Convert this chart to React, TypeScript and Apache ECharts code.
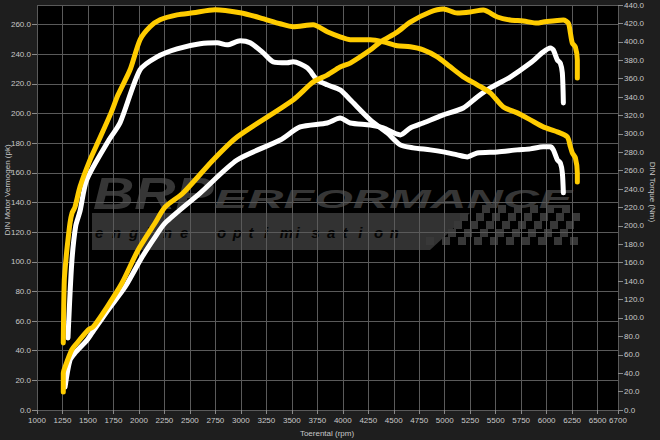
import React, { useEffect, useRef } from "react";
import * as echarts from "echarts";

// Tuned torque (right axis, Nm)
const tunedTorqueRpm = [1258,1268,1290,1304,1324,1344,1373,1422,1520,1609,1726,1795,1913,2011,2109,2207,2374,2531,2747,2993,3189,3386,3513,3709,3847,3974,4073,4269,4397,4534,4662,4789,4927,5054,5182,5319,5447,5575,5712,5840,5966,6105,6203,6233,6252,6282,6301,6301];
const tunedTorqueNm = [72.8,141.3,170.7,184.8,203.3,214.1,220.7,242.4,271.7,293.5,322.8,342.4,369.6,402.2,416.3,423.9,429.3,431.5,434.8,431.5,426.1,419.6,416.3,418.5,410.9,405.4,402.2,402.2,400,395.7,394.6,391.3,383.7,372.8,362,353.3,344.6,329.3,322.8,315.2,307.6,302.2,296.7,285.9,279.3,273.9,257.6,247.8];

// Tuned power (left axis, pk)
const tunedPowerRpm = [1258,1258,1275,1341,1393,1501,1550,1687,1834,1992,2158,2257,2433,2728,2963,3513,3709,3847,3974,4073,4269,4367,4534,4662,4858,4986,5123,5251,5378,5516,5643,5771,5908,5966,6164,6213,6233,6252,6282,6301,6301];
const tunedPowerPk = [12.1,25,29,40.5,45.2,54,56,69.5,85.7,108,126.2,137,146.4,168.7,184.2,209.2,221.3,226,231.4,234.1,242.9,248.3,255,261.8,268.6,270.6,267.9,268.6,269.9,265.2,263.2,262.5,261.1,261.8,263.2,261.1,254.4,247.6,244.9,236.2,224];

// Stock torque (right axis, Nm)
const stockTorqueRpm = [1304,1341,1380,1422,1488,1707,1815,2011,2178,2374,2600,2767,2865,2993,3091,3219,3317,3454,3513,3651,3749,3847,3974,4073,4269,4436,4564,4691,4858,4986,5123,5221,5319,5516,5712,5840,5966,6036,6066,6105,6134,6154,6164];
const stockTorqueNm = [78.3,159.8,200,216,250,293.5,312,369.6,383.7,392.4,397.8,398.9,396.7,401.1,398.9,388,378.3,377.2,378.3,371.7,358.7,353.3,347.8,337,315.2,301.1,288,284.8,282.6,280.4,277.2,275,279.3,280.4,282.6,283.7,285.9,285.9,282.6,271.7,268.5,257.6,235.9];

// Stock power (left axis, pk)
const stockPowerRpm = [1275,1324,1373,1491,1540,1697,1864,2031,2158,2257,2600,2963,3386,3582,3847,3974,4073,4269,4397,4564,4662,4789,4986,5182,5319,5447,5643,5840,5966,6036,6066,6105,6134,6154,6164];
const stockPowerPk = [15.5,33.7,38.5,47.2,52,67.5,83,103.2,116.7,126.2,146.4,168.7,182.2,191,193.7,197,193.7,192.3,190.3,185.6,190.3,193.7,199.1,203.8,211.2,217.3,224.7,234.1,241.6,244.3,242.9,236.2,234.1,227.4,207.2];

const xTitle = "Toerental (rpm)";
const leftTitle = "DIN Motor Vermogen (pk)";
const rightTitle = "DIN Torque (Nm)";
const logoBig = "BRP";
const logoRest = "ERFORMANCE";
const logoSub1 = "engine";
const logoSub2 = "optimisation";

const FONT = "'Liberation Sans', Arial, sans-serif";
const YELLOW = "#ffcc00";
const WHITE = "#ffffff";
const LABEL = "#c8c8c8";
const GRIDC = "#5a5a5a";

const zip = (xs: number[], ys: number[]) => xs.map((x, i) => [x, ys[i]]);

function buildWatermark() {
  const els: any[] = [];
  const wm = "#363636";
  els.push({
    type: "text", x: 93, y: 194, scaleX: 1.3, z: -10, silent: true,
    style: { text: logoBig, fill: wm, font: `italic bold 44px ${FONT}`, textAlign: "left", verticalAlign: "middle" },
  });
  els.push({
    type: "text", x: 214, y: 199, scaleX: 2.0, z: -10, silent: true,
    style: { text: logoRest, fill: wm, font: `italic bold 25px ${FONT}`, textAlign: "left", verticalAlign: "middle" },
  });
  els.push({
    type: "polygon", z: -10, silent: true,
    shape: { points: [[92, 213], [470, 213], [430, 250], [92, 250]] },
    style: { fill: "#323232" },
  });
  logoSub1.split("").forEach((ch, i) => {
    els.push({
      type: "text", x: 95 + i * 17, y: 232, z: -9, silent: true,
      style: { text: ch, fill: "#050505", font: `italic bold 15px ${FONT}`, textAlign: "left", verticalAlign: "middle" },
    });
  });
  logoSub2.split("").forEach((ch, i) => {
    els.push({
      type: "text", x: 217 + i * 15.7, y: 232, z: -9, silent: true,
      style: { text: ch, fill: "#050505", font: `italic bold 15px ${FONT}`, textAlign: "left", verticalAlign: "middle" },
    });
  });
  const cell = 8;
  for (let r = 0; r < 5; r++) {
    for (let c = 0; c < 20; c++) {
      if ((r + c) % 2 !== 0) continue;
      const cx = 418 + c * cell + r * 2;
      const cy = 205 + r * cell;
      if (cx < 470 - r * 12) continue;
      if (cx > 572) continue;
      els.push({
        type: "rect", z: -10, silent: true,
        shape: { x: cx, y: cy, width: cell, height: cell },
        style: { fill: "#383838" },
      });
    }
  }
  return els;
}

export default function App() {
  const ref = useRef<HTMLDivElement>(null);
  useEffect(() => {
    if (!ref.current) return;
    const chart = echarts.init(ref.current, null, { renderer: "svg" });
    const labelStyle = { color: LABEL, fontSize: 8, fontFamily: FONT };
    const tick = { show: true, length: 5, lineStyle: { color: "#8a8a8a" } };
    const fmt = (v: number) => v.toFixed(1);
    const lineSeries = (name: string, xs: number[], ys: number[], color: string, yAxisIndex: number) => ({
      name, type: "line", yAxisIndex, data: zip(xs, ys), symbol: "none", showSymbol: false, z: 3,
      smooth: 0.25,
      lineStyle: { color, width: 5, cap: "round", join: "round" }, itemStyle: { color },
    });
    const option: any = {
      animation: false,
      backgroundColor: "#1e1e1e",
      textStyle: { fontFamily: FONT },
      grid: { left: 37, right: 42, top: 5, bottom: 30, show: true, backgroundColor: "#000000", borderWidth: 0, z: -20 },
      xAxis: {
        type: "value", min: 1000, max: 6700, interval: 250,
        axisLine: { show: false }, axisTick: { ...tick, length: 4 },
        axisLabel: { ...labelStyle, margin: 6, showMaxLabel: true, showMinLabel: true, hideOverlap: false, formatter: (v: number) => String(v) },
        splitLine: { show: true, lineStyle: { color: GRIDC, width: 1 } },
      },
      yAxis: [
        {
          type: "value", min: 0, max: 273.3, interval: 20, position: "left",
          axisLine: { show: false }, axisTick: tick,
          axisLabel: { ...labelStyle, margin: 6, formatter: fmt, showMaxLabel: false },
          splitLine: { show: true, lineStyle: { color: GRIDC, width: 1 } },
        },
        {
          type: "value", min: 0, max: 440, interval: 20, position: "right",
          axisLine: { show: false }, axisTick: tick,
          axisLabel: { ...labelStyle, margin: 6, formatter: fmt },
          splitLine: { show: false },
        },
      ],
      graphic: [
        ...buildWatermark(),
        {
          type: "text", x: 327, y: 433, silent: true,
          style: { text: xTitle, fill: LABEL, font: `8px ${FONT}`, textAlign: "center", verticalAlign: "middle" },
        },
        {
          type: "text", x: 7, y: 190, rotation: Math.PI / 2, silent: true,
          style: { text: leftTitle, fill: LABEL, font: `8px ${FONT}`, textAlign: "center", verticalAlign: "middle" },
        },
        {
          type: "text", x: 652, y: 192, rotation: -Math.PI / 2, silent: true,
          style: { text: rightTitle, fill: LABEL, font: `8px ${FONT}`, textAlign: "center", verticalAlign: "middle" },
        },
      ],
      series: [
        lineSeries("Standaard vermogen", stockPowerRpm, stockPowerPk, WHITE, 0),
        lineSeries("Standaard koppel", stockTorqueRpm, stockTorqueNm, WHITE, 1),
        lineSeries("Getuned vermogen", tunedPowerRpm, tunedPowerPk, YELLOW, 0),
        lineSeries("Getuned koppel", tunedTorqueRpm, tunedTorqueNm, YELLOW, 1),
      ],
    };
    chart.setOption(option);
    return () => chart.dispose();
  }, []);
  return <div ref={ref} style={{ position: "fixed", left: 0, top: 0, width: 660, height: 440 }} />;
}
